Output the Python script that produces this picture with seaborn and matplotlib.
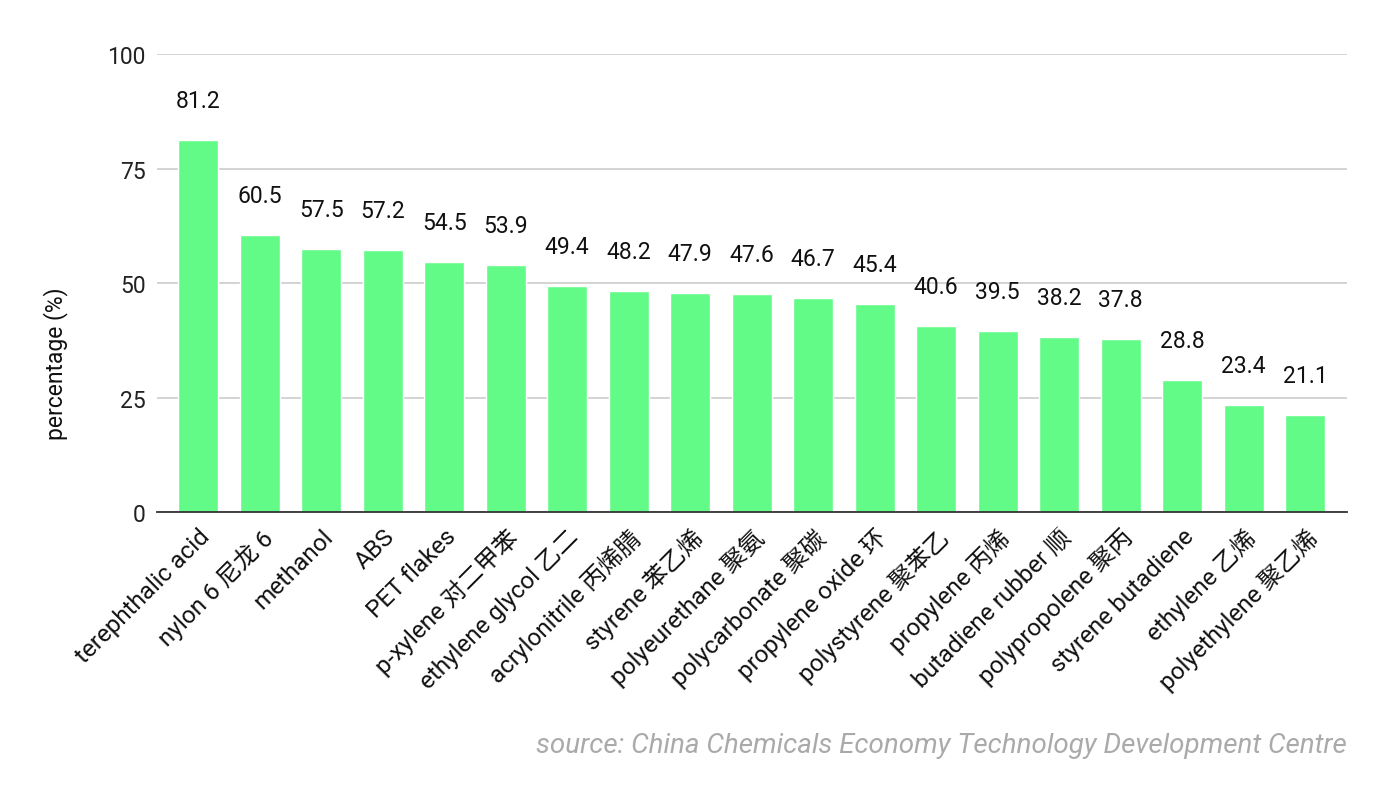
import matplotlib
matplotlib.use("Agg")
import matplotlib.pyplot as plt
import seaborn as sns
import pandas as pd

categories = [
    "terephthalic acid", "nylon 6 尼龙 6", "methanol", "ABS", "PET flakes",
    "p-xylene 对二甲苯", "ethylene glycol 乙二", "acrylonitrile 丙烯腈",
    "styrene 苯乙烯", "polyeurethane 聚氨", "polycarbonate 聚碳",
    "propylene oxide 环", "polystyrene 聚苯乙", "propylene 丙烯",
    "butadiene rubber 顺", "polypropolene 聚丙", "styrene butadiene",
    "ethylene 乙烯", "polyethylene 聚乙烯",
]
values = [81.2, 60.5, 57.5, 57.2, 54.5, 53.9, 49.4, 48.2, 47.9, 47.6,
          46.7, 45.4, 40.6, 39.5, 38.2, 37.8, 28.8, 23.4, 21.1]
yticks = [0, 25, 50, 75, 100]
source_text = "source: China Chemicals Economy Technology Development Centre"
ylabel = "percentage (%)"

sns.set_theme(style="white")
FAM = ["Roboto", "Noto Sans CJK SC", "DejaVu Sans"]
plt.rcParams["font.family"] = FAM

df = pd.DataFrame({"category": categories, "value": values})

fig = plt.figure(figsize=(13.88, 8.04), dpi=100)
ax = fig.add_axes([0.1131, 0.3619, 0.8574, 0.5697])

sns.barplot(data=df, x="category", y="value", order=categories,
            color="#63fb87", saturation=1, width=0.65, ax=ax, zorder=3)

ax.set_xlim(-0.67, 18.68)
ax.set_ylim(0, 100)
ax.set_yticks(yticks)
ax.set_yticklabels([str(t) for t in yticks], fontsize=16.5, color="#222222")
ax.yaxis.grid(True, color="#cccccc", linewidth=1.2, zorder=0)
ax.set_axisbelow(True)
for s in ["top", "right", "left"]:
    ax.spines[s].set_visible(False)
ax.spines["bottom"].set_color("#333333")
ax.spines["bottom"].set_linewidth(1.3)
ax.spines["bottom"].set_zorder(4)
ax.tick_params(axis="y", length=0, pad=8)
ax.tick_params(axis="x", length=0, pad=9)

ax.set_xticks(range(len(categories)))
ax.set_xticklabels(categories, rotation=45, ha="right", va="top",
                   rotation_mode="anchor", fontsize=17.5, color="#111111")
for t in ax.get_xticklabels():
    t.set_family(FAM)

ax.set_xlabel("")
ax.set_ylabel(ylabel, fontsize=16.5, color="#111111")
ax.yaxis.set_label_coords(-0.075, 0.325)

for i, v in enumerate(values):
    ax.annotate(f"{v}", xy=(i, v), xytext=(0, 28.5), textcoords="offset points",
                ha="center", va="center", fontsize=16.5, color="#111111")

fig.text(0.9705, 0.072, source_text, ha="right", va="center", fontsize=20,
         color="#aaaaaa", style="italic", family=FAM)

fig.savefig("out.png", dpi=100, facecolor="white")
